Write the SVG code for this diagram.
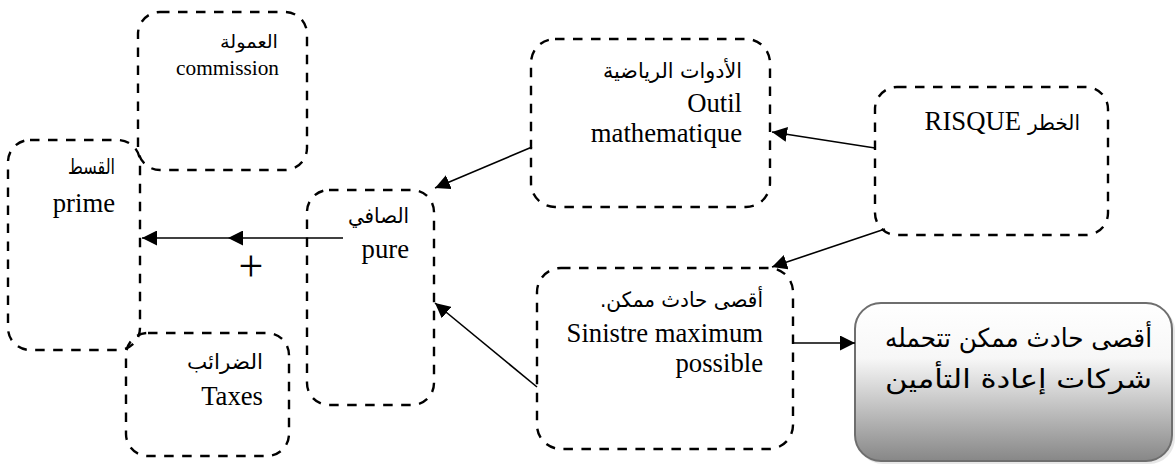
<svg xmlns="http://www.w3.org/2000/svg" width="1175" height="464" viewBox="0 0 1175 464">
  <style>
    .box { fill: none; stroke: #000; stroke-width: 2.4; stroke-dasharray: 9.5 8.5; }
    .lat { font-family: "Liberation Serif", "Times New Roman", serif; font-size: 26.7px; fill: #000; text-anchor: end; }
    .ar { font-family: "DejaVu Sans", "Noto Sans", sans-serif; font-size: 21px; fill: #000; text-anchor: end; }
    .small { font-size: 21.3px; }
    .arsmall { font-size: 18px; }
    .conn { stroke: #000; stroke-width: 1.6; fill: none; }
    .big { font-family: "DejaVu Sans", "Liberation Sans", sans-serif; font-size: 26px; fill: #000; text-anchor: end; }
  </style>
  <defs>
    <marker id="arrow" viewBox="0 0 10 10" refX="10" refY="5" markerWidth="15" markerHeight="15" markerUnits="userSpaceOnUse" orient="auto">
      <path d="M0,0 L10,5 L0,10 Z" fill="#000"/>
    </marker>
    <linearGradient id="grayFill" x1="0" y1="0" x2="0" y2="1">
      <stop offset="0" stop-color="#ffffff"/>
      <stop offset="0.35" stop-color="#f7f7f7"/>
      <stop offset="1" stop-color="#878787"/>
    </linearGradient>
  </defs>

  <rect width="1175" height="464" fill="#fff"/>

  <!-- commission -->
  <g id="node-commission">
    <rect class="box" x="138" y="12" width="169" height="158" rx="22"/>
    <text class="ar arsmall" x="278" y="48" textLength="58" lengthAdjust="spacingAndGlyphs">العمولة</text>
    <text class="lat small" x="279" y="75">commission</text>
  </g>

  <!-- prime -->
  <g id="node-prime">
    <rect class="box" x="8" y="140" width="132" height="210" rx="22"/>
    <text class="ar" x="115" y="174" textLength="47" lengthAdjust="spacingAndGlyphs">القسط</text>
    <text class="lat" x="115" y="212">prime</text>
  </g>

  <!-- pure -->
  <g id="node-pure">
    <rect class="box" x="307" y="190" width="127" height="215" rx="22"/>
    <text class="ar" x="409" y="223" textLength="61" lengthAdjust="spacingAndGlyphs">الصافي</text>
    <text class="lat" x="409" y="258">pure</text>
  </g>

  <!-- taxes -->
  <g id="node-taxes">
    <rect class="box" x="126" y="333" width="163" height="123" rx="22"/>
    <text class="ar" x="263" y="369" textLength="76" lengthAdjust="spacingAndGlyphs">الضرائب</text>
    <text class="lat" x="263" y="405">Taxes</text>
  </g>

  <!-- mathematical tools -->
  <g id="node-outil">
    <rect class="box" x="531" y="39" width="239" height="168" rx="24"/>
    <text class="ar" x="742" y="78" textLength="139" lengthAdjust="spacingAndGlyphs">الأدوات الرياضية</text>
    <text class="lat" x="742" y="112">Outil</text>
    <text class="lat" x="742" y="142">mathematique</text>
  </g>

  <!-- risk -->
  <g id="node-risque">
    <rect class="box" x="875" y="87" width="233" height="148" rx="22"/>
    <text class="lat" x="1021" y="130">RISQUE</text>
    <text class="ar" x="1080" y="130" textLength="52" lengthAdjust="spacingAndGlyphs">الخطر</text>
  </g>

  <!-- maximum possible loss -->
  <g id="node-smp">
    <rect class="box" x="537" y="268" width="256" height="181" rx="24"/>
    <text class="ar" x="763" y="307" textLength="163" lengthAdjust="spacingAndGlyphs">أقصى حادث ممكن.&#x200F;</text>
    <text class="lat" x="763" y="342">Sinistre maximum</text>
    <text class="lat" x="763" y="372">possible</text>
  </g>

  <!-- reinsurance -->
  <g id="node-reassurance">
    <rect x="857" y="305" width="318" height="159" rx="26" fill="#cfcfcf" opacity="0.5"/>
    <rect x="855" y="303" width="317" height="158" rx="26" fill="url(#grayFill)" stroke="#6e6e6e" stroke-width="2"/>
    <text class="big" x="1152" y="347" textLength="267" lengthAdjust="spacingAndGlyphs">أقصى حادث ممكن تتحمله</text>
    <text class="big" x="1152" y="388" textLength="267" lengthAdjust="spacingAndGlyphs">شركات إعادة التأمين</text>
  </g>

  <!-- connectors -->
  <g id="connectors">
    <line class="conn" x1="875" y1="148" x2="772" y2="132" marker-end="url(#arrow)"/>
    <line class="conn" x1="885" y1="229" x2="772" y2="267" marker-end="url(#arrow)"/>
    <line class="conn" x1="532" y1="147" x2="435" y2="188" marker-end="url(#arrow)"/>
    <line class="conn" x1="537" y1="387" x2="435" y2="303" marker-end="url(#arrow)"/>
    <line class="conn" x1="793" y1="343" x2="855" y2="343" marker-end="url(#arrow)"/>
    <line class="conn" x1="343" y1="238" x2="228" y2="238" marker-end="url(#arrow)"/>
    <line class="conn" x1="228" y1="238" x2="142" y2="238" marker-end="url(#arrow)"/>
    <text x="251" y="281" font-family="Liberation Serif, serif" font-size="44" font-weight="300" text-anchor="middle">+</text>
  </g>
</svg>
